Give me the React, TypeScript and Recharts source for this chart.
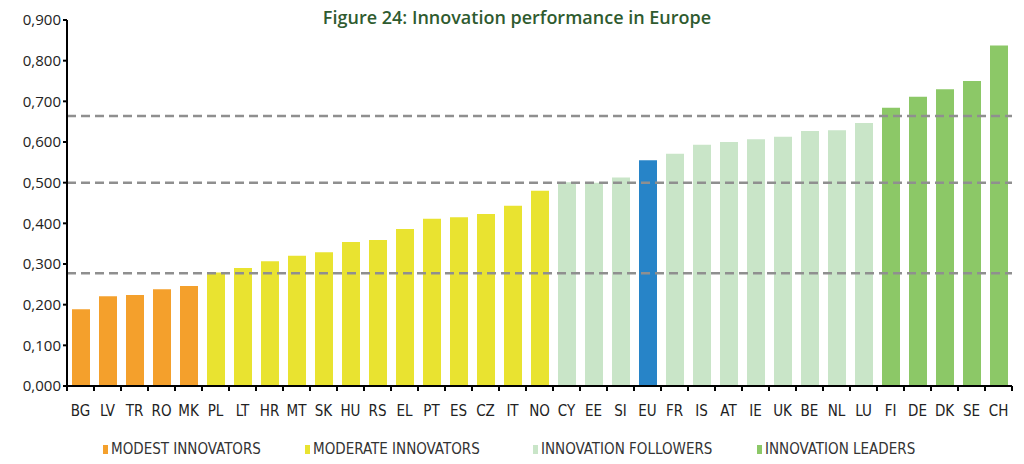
import React from "react";
import {
  BarChart,
  Bar,
  Cell,
  XAxis,
  YAxis,
  ReferenceLine,
  Legend,
} from "recharts";

const countries = [
  "BG", "LV", "TR", "RO", "MK", "PL", "LT", "HR", "MT", "SK", "HU", "RS",
  "EL", "PT", "ES", "CZ", "IT", "NO", "CY", "EE", "SI", "EU", "FR", "IS",
  "AT", "IE", "UK", "BE", "NL", "LU", "FI", "DE", "DK", "SE", "CH",
];
const scores = [
  0.189, 0.221, 0.224, 0.238, 0.246, 0.279, 0.29, 0.307, 0.32, 0.329, 0.354, 0.359,
  0.386, 0.411, 0.415, 0.423, 0.443, 0.48, 0.501, 0.5, 0.513, 0.555, 0.571, 0.593,
  0.6, 0.607, 0.613, 0.627, 0.629, 0.647, 0.684, 0.711, 0.73, 0.75, 0.837,
];
const groups = [
  "modest", "modest", "modest", "modest", "modest",
  "moderate", "moderate", "moderate", "moderate", "moderate", "moderate", "moderate",
  "moderate", "moderate", "moderate", "moderate", "moderate", "moderate",
  "follower", "follower", "follower", "eu", "follower", "follower",
  "follower", "follower", "follower", "follower", "follower", "follower",
  "leader", "leader", "leader", "leader", "leader",
];
const thresholds = [0.277, 0.5, 0.664];
const yTicks = [0, 0.1, 0.2, 0.3, 0.4, 0.5, 0.6, 0.7, 0.8, 0.9];
const legendItems = [
  { key: "modest", label: "MODEST INNOVATORS" },
  { key: "moderate", label: "MODERATE INNOVATORS" },
  { key: "follower", label: "INNOVATION FOLLOWERS" },
  { key: "leader", label: "INNOVATION LEADERS" },
];

const colors: Record<string, string> = {
  modest: "#f4a02c",
  moderate: "#e9e330",
  follower: "#c9e5c8",
  leader: "#8cc867",
  eu: "#2784c8",
};

const data = countries.map((c, i) => ({ label: c, value: scores[i], group: groups[i] }));

const condensed = "'Liberation Sans Narrow', 'DejaVu Sans Condensed', sans-serif";
const TICK_SIZE = 5;
const TICK_MARGIN = 14;

// category label + tick mark on the band edge (ticks sit between bars in the original)
function EdgeTick(props: any) {
  const { x, y, payload, index } = props;
  const half = payload?.offset ?? 0;
  const top = y - TICK_SIZE - TICK_MARGIN;
  const isLast = index === countries.length - 1;
  return (
    <g>
      <line x1={x - half} x2={x - half} y1={top} y2={top + TICK_SIZE} stroke="#000" strokeWidth={2} />
      {isLast && (
        <line x1={x + half} x2={x + half} y1={top} y2={top + TICK_SIZE} stroke="#000" strokeWidth={2} />
      )}
      <text x={x} y={y} dy="0.71em" textAnchor="middle" fontSize={15} fill="#222" fontFamily={condensed}>
        {payload.value}
      </text>
    </g>
  );
}

function LegendBox() {
  return (
    <div style={{ display: "flex", fontFamily: condensed, fontSize: 15, color: "#333" }}>
      {legendItems.map((it, i) => (
        <div
          key={it.key}
          style={{
            display: "flex",
            alignItems: "center",
            marginLeft: i === 0 ? 103 : 0,
            width: i === 0 ? 202 : i === 1 ? 228 : 224,
          }}
        >
          <span style={{ width: 5, height: 9, background: colors[it.key], marginRight: 3 }} />
          {it.label}
        </div>
      ))}
    </div>
  );
}

export default function App() {
  return (
    <div style={{ position: "absolute", left: 0, top: 0, width: 1024, height: 464, background: "#fff" }}>
      <div
        style={{
          position: "absolute",
          top: 5,
          left: 0,
          width: 1034,
          textAlign: "center",
          fontFamily: "'Open Sans', sans-serif",
          fontWeight: 600,
          fontSize: 18,
          color: "#2f5b2f",
        }}
      >
        Figure 24: Innovation performance in Europe
      </div>
      <BarChart
        width={1024}
        height={464}
        data={data}
        margin={{ top: 20, right: 12, left: 7, bottom: 24 }}
        barCategoryGap="32%"
      >
        <XAxis
          dataKey="label"
          interval={0}
          axisLine={{ stroke: "#000", strokeWidth: 2 }}
          tickLine={false}
          tickSize={TICK_SIZE}
          tickMargin={TICK_MARGIN}
          height={36}
          tick={<EdgeTick />}
        />
        <YAxis
          domain={[0, 0.9]}
          ticks={yTicks}
          interval={0}
          width={60}
          tickFormatter={(v: number) => v.toFixed(3).replace(".", ",")}
          axisLine={{ stroke: "#000", strokeWidth: 2 }}
          tickLine={{ stroke: "#000", strokeWidth: 2 }}
          tickSize={4}
          tick={{ fontSize: 15, fill: "#222", fontFamily: "'Open Sans', sans-serif" }}
        />
        <Legend verticalAlign="bottom" content={() => <LegendBox />} wrapperStyle={{ left: 0, bottom: 6 }} />
        <Bar dataKey="value" barSize={18} isAnimationActive={false} legendType="none">
          {data.map((d, i) => (
            <Cell key={i} fill={colors[d.group]} />
          ))}
        </Bar>
        {thresholds.map((t) => (
          <ReferenceLine
            key={t}
            y={t}
            stroke="#8f8f8f"
            strokeWidth={2.5}
            strokeDasharray="9 5"
          />
        ))}
      </BarChart>
    </div>
  );
}
